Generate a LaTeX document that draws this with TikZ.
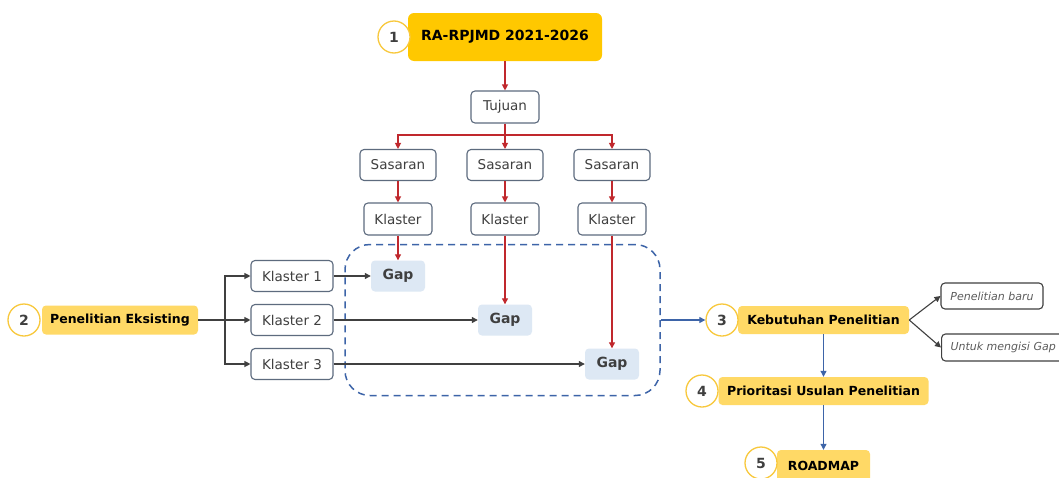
\documentclass[tikz,border=0pt]{standalone}
\usepackage{fontspec}
\setmainfont{DejaVu Sans}
\usetikzlibrary{arrows.meta}
\definecolor{gold}{HTML}{FFC800}
\definecolor{ylw}{HTML}{FFD966}
\definecolor{ringc}{HTML}{F8C83C}
\definecolor{bord}{HTML}{5D6B7E}
\definecolor{redl}{HTML}{C0282D}
\definecolor{bluel}{HTML}{3D64A8}
\definecolor{dark}{HTML}{404040}
\definecolor{gapfill}{HTML}{DDE8F4}
\definecolor{txt}{HTML}{3F3F3F}
\begin{document}
\begin{tikzpicture}[x=1pt,y=-1pt,
  wbox/.style={draw=bord, line width=1.1pt, rounded corners=4pt, fill=white, inner sep=0pt, text=txt, font=\fontsize{13.5}{15}\selectfont},
  ibox/.style={draw=dark, line width=1.1pt, rounded corners=4pt, fill=white, inner sep=0pt, text=txt!85, font=\itshape\fontsize{11}{13}\selectfont},
  ybox/.style={fill=ylw, rounded corners=4pt, inner sep=0pt, font=\bfseries\fontsize{12.5}{14}\selectfont, text=black},
  numring/.style={circle, draw=ringc, line width=1.3pt, fill=white, minimum size=32pt, inner sep=0pt, font=\bfseries\fontsize{14}{16}\selectfont, text=txt},
  gapbox/.style={fill=gapfill, rounded corners=4pt, minimum width=54pt, minimum height=31pt, inner sep=0pt, font=\bfseries\fontsize{14}{16}\selectfont, text=txt},
  ra/.style={-{Triangle[length=6pt,width=6pt]}, draw=redl, line width=1.1pt},
  rl/.style={draw=redl, line width=1.1pt},
  da/.style={-{Triangle[length=6pt,width=6pt]}, draw=dark, line width=1.1pt},
  dl/.style={draw=dark, line width=1.1pt},
  ba/.style={-{Triangle[length=6pt,width=6pt]}, draw=bluel, line width=1.1pt}
]
\useasboundingbox (0,0) rectangle (1059,477);
\fill[white] (0,0) rectangle (1059,477);

% 1
\node[fill=gold, rounded corners=6pt, minimum width=194pt, minimum height=48pt, inner sep=0pt, font=\bfseries\fontsize{14}{16}\selectfont] (title) at (505,37) {RA-RPJMD 2021-2026};
\node[numring] (c1) at (394,37) {1};

\node[wbox, minimum width=68pt, minimum height=32pt] (tuj) at (505,107) {Tujuan};
\foreach \i/\x in {1/398,2/505,3/612}{
  \node[wbox, minimum width=76pt, minimum height=31pt] (s\i) at (\x,165) {Sasaran};
  \node[wbox, minimum width=68pt, minimum height=32pt] (k\i) at (\x,219) {Klaster};
}

% zone
\node[draw=bluel, dash pattern=on 7pt off 5pt, line width=1.5pt, rounded corners=25pt, minimum width=315pt, minimum height=151pt, inner sep=0pt] (zone) at (502.5,320) {};

\node[gapbox] (g1) at (398,276) {Gap};
\node[gapbox] (g2) at (505,320) {Gap};
\node[gapbox] (g3) at (612,364) {Gap};

% 2
\node[ybox, minimum width=156pt, minimum height=29pt] (pe) at (120,320) {Penelitian Eksisting};
\node[numring] (c2) at (24,320) {2};
\node[wbox, minimum width=82pt, minimum height=31pt] (kl1) at (292,276) {Klaster 1};
\node[wbox, minimum width=82pt, minimum height=31pt] (kl2) at (292,320) {Klaster 2};
\node[wbox, minimum width=82pt, minimum height=31pt] (kl3) at (292,364) {Klaster 3};

% 3,4,5
\node[ybox, minimum width=171pt, minimum height=28pt] (kb) at (823.5,320) {Kebutuhan Penelitian};
\node[numring] (c3) at (722,320) {3};
\node[ibox, minimum width=102pt, minimum height=26pt] (pb) at (992,296) {Penelitian baru};
\node[ibox, anchor=west, minimum height=27pt, inner xsep=9pt] (ug) at (941,347.5) {Untuk mengisi Gap\hspace{6pt}};
\node[ybox, minimum width=210pt, minimum height=28pt] (pr) at (823.5,391) {Prioritasi Usulan Penelitian};
\node[numring] (c4) at (702,391) {4};
\node[ybox, minimum width=93pt, minimum height=32pt] (rm) at (823.5,466) {ROADMAP};
\node[numring] (c5) at (761,463) {5};

% red connectors
\draw[ra] (title.south) -- (tuj.north);
\coordinate (br) at (505,135);
\draw[rl] (tuj.south) -- (br);
\draw[ra] (br) -| (s1.north);
\draw[ra] (br) -- (s2.north);
\draw[ra] (br) -| (s3.north);
\foreach \i in {1,2,3}{
  \draw[ra] (s\i.south) -- (k\i.north);
  \draw[ra] (k\i.south) -- (g\i.north);
}

% dark connectors
\coordinate (pj) at (225,320);
\draw[dl] (pe.east) -- (pj);
\draw[da] (pj) |- (kl1.west);
\draw[da] (pj) -- (kl2.west);
\draw[da] (pj) |- (kl3.west);
\foreach \i in {1,2,3}{
  \draw[da] (kl\i.east) -- (g\i.west);
}
\draw[da] (kb.east) -- (pb.west);
\draw[da] (kb.east) -- (ug.west);

% blue connectors
\draw[ba] (zone.east) -- (c3.west);
\draw[ba] (kb.south) -- (pr.north);
\draw[ba] (pr.south) -- (rm.north);
\end{tikzpicture}
\end{document}
